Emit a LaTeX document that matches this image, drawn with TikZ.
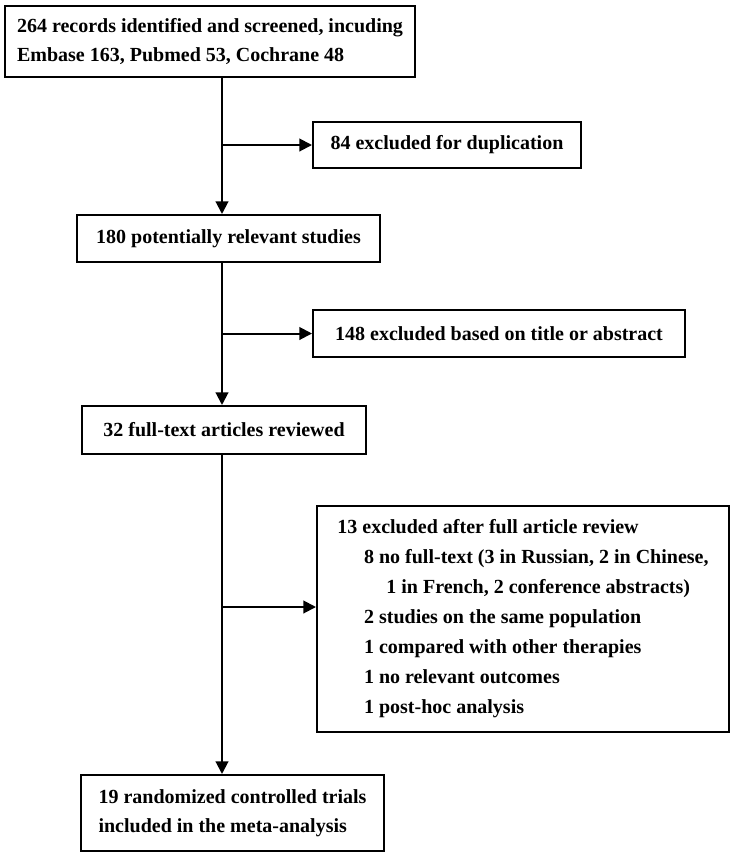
\documentclass[tikz,border=0pt]{standalone}
\usepackage{fontspec}
\setmainfont{Liberation Serif}
\usetikzlibrary{arrows.meta,positioning}

\begin{document}
\begin{tikzpicture}[x=0.75pt,y=-0.75pt,
    box/.style={draw,line width=1.5pt,inner sep=0pt,align=left,
        font=\bfseries\fontsize{15pt}{21.5pt}\selectfont},
    flow/.style={line width=1.5pt,-{Triangle[length=9.5pt,width=9.5pt]}}]
    \useasboundingbox (0,0) rectangle (735,858);

    % Main column
    \node[box,minimum width=307.5pt,minimum height=53.25pt] (records) at (210,41.5)
        {264 records identified and screened, incuding\\Embase 163, Pubmed 53, Cochrane 48};
    \node[box,minimum width=227.25pt,minimum height=35.25pt] (potential) at (228.5,238.5)
        {180 potentially relevant studies};
    \node[box,minimum width=213pt,minimum height=36pt] (fulltext) at (224,430)
        {32 full-text articles reviewed};
    \node[box,minimum width=227.25pt,minimum height=57pt] (included) at (232.5,813)
        {19 randomized controlled trials\\included in the meta-analysis};

    % Exclusions
    \node[box,minimum width=201pt,minimum height=34.5pt] (dup) at (447,145)
        {84 excluded for duplication};
    \node[box,minimum width=279pt,minimum height=35.25pt] (title) at (499,333.5)
        {148 excluded based on title or abstract};
    \node[box,minimum width=309pt,minimum height=169.5pt,
        font=\bfseries\fontsize{15pt}{22.5pt}\selectfont] (fullexcl) at (523,619)
        {13 excluded after full article review\\
        \hspace*{20pt}8 no full-text (3 in Russian, 2 in Chinese,\\
        \hspace*{36.75pt}1 in French, 2 conference abstracts)\\
        \hspace*{20pt}2 studies on the same population\\
        \hspace*{20pt}1 compared with other therapies\\
        \hspace*{20pt}1 no relevant outcomes\\
        \hspace*{20pt}1 post-hoc analysis};

    % Arrows
    \coordinate (trunk) at (222,0);
    \coordinate (split) at (222,607);
    \draw[flow] (records.south -| trunk) -- (potential.north -| trunk);
    \draw[flow] (potential.south -| trunk) -- (fulltext.north -| trunk);
    \draw[flow] (fulltext.south -| trunk) -- (included.north -| trunk);
    \draw[flow] (trunk |- dup.west) -- (dup.west);
    \draw[flow] (trunk |- title.west) -- (title.west);
    \draw[flow] (split) -- (split -| fullexcl.west);
\end{tikzpicture}
\end{document}
